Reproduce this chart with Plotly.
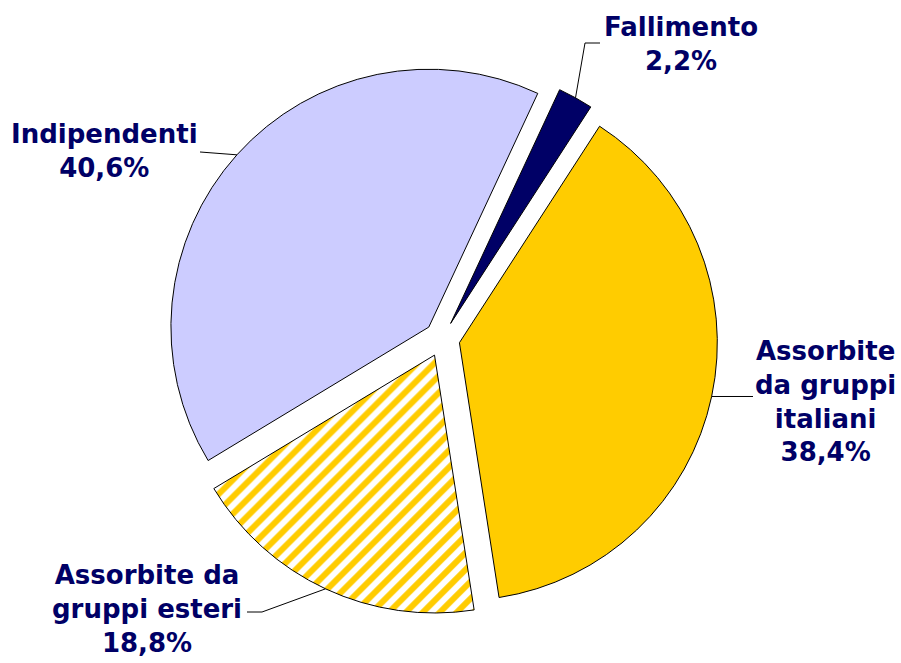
import math
import plotly.graph_objects as go

# ---- data ----
labels = ["Fallimento", "Assorbite da gruppi italiani", "Assorbite da gruppi esteri", "Indipendenti"]
label_text = ["Fallimento", "Assorbite<br>da gruppi<br>italiani", "Assorbite da<br>gruppi esteri", "Indipendenti"]
values = [2.2, 38.4, 18.8, 40.6]

# ---- styling / layout ----
W, H = 901, 663
colors = ["#000066", "#FFCC00", "#FFFFFF", "#CCCCFF"]
pattern_shapes = ["", "", "/", ""]
ROT = 25
PULL = 0.069
DOM_X = [0.1846, 0.7966]
DOM_Y = [0.0729, 0.9045]
TXT = "#000066"
FONT = "DejaVu Sans"

fig = go.Figure(go.Pie(
    labels=labels, values=values, sort=False, direction="clockwise",
    rotation=ROT, pull=PULL, textinfo="none", showlegend=False,
    marker=dict(colors=colors, line=dict(color="#000000", width=1),
                pattern=dict(shape=pattern_shapes, fgcolor="#FFCC00", bgcolor="#FFFFFF",
                             size=12, solidity=0.5)),
    domain=dict(x=DOM_X, y=DOM_Y),
    hoverinfo="label+percent",
))

# pie geometry (pixels), mirroring plotly's own sizing
cx = W * (DOM_X[0] + DOM_X[1]) / 2
cy = H * (1 - (DOM_Y[0] + DOM_Y[1]) / 2)
R = min(W * (DOM_X[1] - DOM_X[0]), H * (DOM_Y[1] - DOM_Y[0])) / 2 / (1 + PULL)
total = sum(values)
attach = []
start = ROT
for v in values:
    span = 360 * v / total
    a = math.radians(start + span / 2)
    rr = R * (1 + PULL)
    attach.append((cx + rr * math.sin(a), cy - rr * math.cos(a)))
    start += span

def px(x, y):
    return x / W, 1 - y / H

# label placement (text centre) and leader-line elbows, in pixels
label_pos = [(681, 44), (825, 401), (147, 609), (104, 151)]
elbows = [
    [(585, 43), (600, 43)],
    [(753, None)],
    [(262, 612), (247, 612)],
    [(200, 152)],
]

shapes = []
for i, (ax_, ay_) in enumerate(attach):
    pts = [(ax_, ay_)]
    for (ex, ey) in elbows[i]:
        pts.append((ex, ay_ if ey is None else ey))
    path = "M " + " L ".join(f"{px(x, y)[0]:.5f},{px(x, y)[1]:.5f}" for x, y in pts)
    shapes.append(dict(type="path", path=path, xref="paper", yref="paper",
                       line=dict(color="#000000", width=1)))

annotations = []
for i, lab in enumerate(label_text):
    pct = f"{values[i]:.1f}".replace(".", ",") + "%"
    x, y = px(*label_pos[i])
    annotations.append(dict(text=f"<b>{lab}<br>{pct}</b>", x=x, y=y, xref="paper", yref="paper",
                            xanchor="center", yanchor="middle", showarrow=False, align="center",
                            font=dict(family=FONT, size=26, color=TXT)))

fig.update_layout(
    width=W, height=H, margin=dict(l=0, r=0, t=0, b=0),
    paper_bgcolor="#FFFFFF", plot_bgcolor="#FFFFFF",
    shapes=shapes, annotations=annotations,
)

fig.write_html("out.html", config={"displayModeBar": False},
               post_script="document.body.style.margin='0';document.body.style.overflow='hidden';")
